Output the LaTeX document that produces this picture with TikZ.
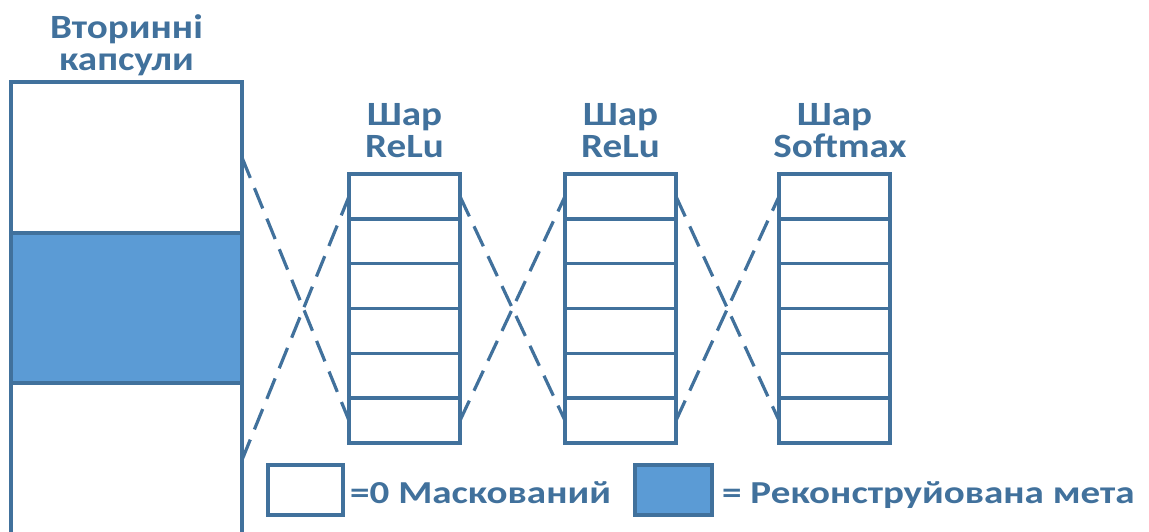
\documentclass[tikz,border=0pt]{standalone}
\usepackage{fontspec}
\setmainfont{Carlito}
\newfontfamily\ttlfont[FakeStretch=1.15]{Carlito}
\newfontfamily\legfont[FakeStretch=1.22]{Carlito}
\definecolor{ln}{HTML}{41719C}
\definecolor{fl}{HTML}{5B9BD5}
\begin{document}
\begin{tikzpicture}[x=1pt,y=-1pt,
  cellbox/.style={draw=ln, line width=3.5pt, fill=white, minimum width=111pt, minimum height=44.83pt, inner sep=0pt, outer sep=0pt},
  capbox/.style={draw=ln, line width=3.5pt, minimum width=231pt, inner sep=0pt, outer sep=0pt},
  legbox/.style={draw=ln, line width=3.5pt, minimum height=50pt, inner sep=0pt, outer sep=0pt},
  conn/.style={draw=ln, line width=3.2pt, dash pattern=on 22pt off 11pt},
  ttl/.style={text=ln, font=\ttlfont\fontsize{34}{32}\selectfont\bfseries, align=center, inner sep=0pt},
  legtxt/.style={text=ln, font=\legfont\fontsize{32}{32}\selectfont\bfseries, inner sep=0pt, anchor=base west}]
\useasboundingbox (0,0) rectangle (1149,531);
% left column
\node[capbox, fill=white, minimum height=151pt] (ctop) at (126.5,157.5) {};
\node[capbox, fill=fl, minimum height=150pt] (cmid) at (126.5,308) {};
\node[capbox, fill=white, minimum height=154pt] (cbot) at (126.5,460) {};
\node[ttl, anchor=base] (t0a) at (126.5,38) {Вторинні};
\node[ttl, anchor=base] (t0b) at (126.5,70) {капсули};
% stacks
\foreach \s/\x in {1/404.5, 2/620.5, 3/834.5}{
  \foreach \i in {1,...,6}{
    \node[cellbox] (s\s c\i) at (\x,{174+(\i-0.5)*44.83}) {};
  }
}
\node[ttl, anchor=base] (t1a) at (404.5,125) {Шар};
\node[ttl, anchor=base] (t1b) at (404.5,157) {ReLu};
\node[ttl, anchor=base] (t2a) at (620.5,125) {Шар};
\node[ttl, anchor=base] (t2b) at (620.5,157) {ReLu};
\node[ttl, anchor=base] (t3a) at (834.5,125) {Шар};
\node[ttl, anchor=base] (t3b) at (840,157) {Softmax};
% connectors
\draw[conn] (ctop.east) -- (s1c6.west);
\draw[conn] (cbot.east) -- (s1c1.west);
\draw[conn] (s1c1.east) -- (s2c6.west);
\draw[conn] (s1c6.east) -- (s2c1.west);
\draw[conn] (s2c1.east) -- (s3c6.west);
\draw[conn] (s2c6.east) -- (s3c1.west);
% legend
\node[legbox, fill=white, minimum width=75pt] (l1) at (305.5,490) {};
\node[legtxt] (l1t) at (350,503) {=0 Маскований};
\node[legbox, fill=fl, minimum width=77pt] (l2) at (673.5,490) {};
\node[legtxt] (l2t) at (722,503) {= Реконструйована мета};
\end{tikzpicture}
\end{document}
